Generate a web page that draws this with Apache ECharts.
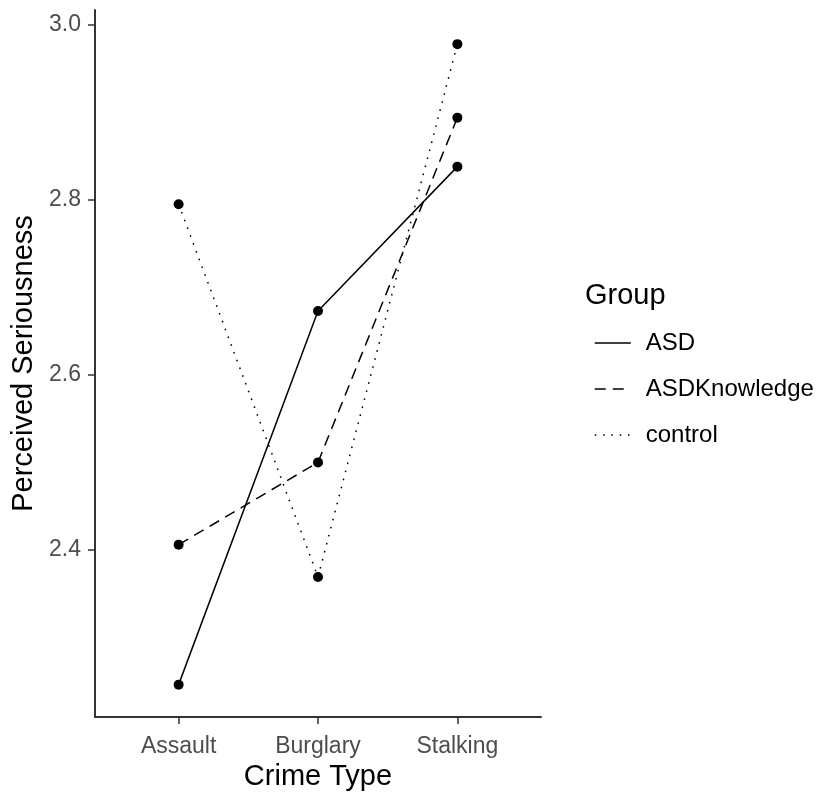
<!DOCTYPE html>
<html>
<head>
<meta charset="utf-8">
<script src="https://cdn.jsdelivr.net/npm/echarts@6/dist/echarts.min.js"></script>
<style>
  html, body { margin: 0; padding: 0; background: #fff; }
  #chart { width: 819px; height: 792px; }
</style>
</head>
<body>
<div id="chart"></div>
<script>
  const crimeTypes = ["Assault", "Burglary", "Stalking"];
  const groups = ["ASD", "ASDKnowledge", "control"];
  const asd = [2.246, 2.673, 2.838];
  const asdKnowledge = [2.406, 2.500, 2.894];
  const control = [2.795, 2.369, 2.978];
  const yTicks = [2.4, 2.6, 2.8, 3.0];
  const xTicks = [1, 2, 3];

  const values = [asd, asdKnowledge, control];
  const dashTypes = ["solid", [11, 7], [1.6, 6.7]];
  const font = "Liberation Sans, Arial, sans-serif";

  // discrete x positions 1..3, ggplot-style 0.6 padding either side
  const toPoints = (arr) => arr.map((v, i) => [xTicks[i], v]);

  const lineSeries = groups.map((name, i) => ({
    name,
    type: "line",
    data: toPoints(values[i]),
    symbol: "none",
    color: "#000",
    itemStyle: { color: "#000", opacity: 0 },
    lineStyle: { color: "#000", width: 1.5, type: dashTypes[i] },
    emphasis: { disabled: true },
    z: 2
  }));

  const pointSeries = groups.map((name, i) => ({
    name: name + " points",
    type: "scatter",
    data: toPoints(values[i]),
    symbol: "circle",
    symbolSize: 10,
    itemStyle: { color: "#000", opacity: 1 },
    emphasis: { disabled: true },
    z: 3
  }));

  const chart = echarts.init(document.getElementById("chart"), null, { renderer: "canvas" });
  chart.setOption({
    animation: false,
    backgroundColor: "#fff",
    title: {
      text: "Group",
      left: 580,
      top: 276,
      textStyle: { fontFamily: font, fontSize: 29, fontWeight: "normal", color: "#000" }
    },
    legend: {
      data: groups,
      orient: "vertical",
      left: 589,
      top: 324,
      itemWidth: 36,
      itemHeight: 20,
      itemGap: 18,
      itemStyle: { opacity: 0 },
      textStyle: {
        fontFamily: font,
        fontSize: 24,
        color: "#000",
        lineHeight: 28,
        padding: [0, 0, 0, 10]
      },
      lineStyle: { width: 1.5, color: "#000" }
    },
    grid: {
      left: 95,
      right: 278,
      top: 10,
      bottom: 75,
      containLabel: false,
      outerBoundsMode: "none"
    },
    xAxis: {
      type: "value",
      min: 0.4,
      max: 3.6,
      name: "Crime Type",
      nameLocation: "middle",
      nameGap: 45,
      nameTextStyle: { fontFamily: font, fontSize: 29, color: "#000" },
      axisLine: { lineStyle: { color: "#333", width: 2 } },
      axisTick: { length: 7, customValues: xTicks, lineStyle: { color: "#333", width: 1.5 } },
      axisLabel: {
        fontFamily: font,
        fontSize: 23,
        color: "#4D4D4D",
        margin: 18,
        customValues: xTicks,
        formatter: (v) => crimeTypes[Math.round(v) - 1] || ""
      },
      splitLine: { show: false }
    },
    yAxis: {
      type: "value",
      min: 2.209,
      max: 3.017,
      name: "Perceived Seriousness",
      nameLocation: "middle",
      nameGap: 54,
      nameTextStyle: { fontFamily: font, fontSize: 29, color: "#000" },
      axisLine: { show: true, lineStyle: { color: "#333", width: 2 } },
      axisTick: { show: true, length: 7, customValues: yTicks, lineStyle: { color: "#333", width: 1.5 } },
      axisLabel: {
        fontFamily: font,
        fontSize: 23,
        color: "#4D4D4D",
        margin: 14,
        customValues: yTicks,
        formatter: (v) => v.toFixed(1)
      },
      splitLine: { show: false }
    },
    series: [...lineSeries, ...pointSeries]
  });
</script>
</body>
</html>
